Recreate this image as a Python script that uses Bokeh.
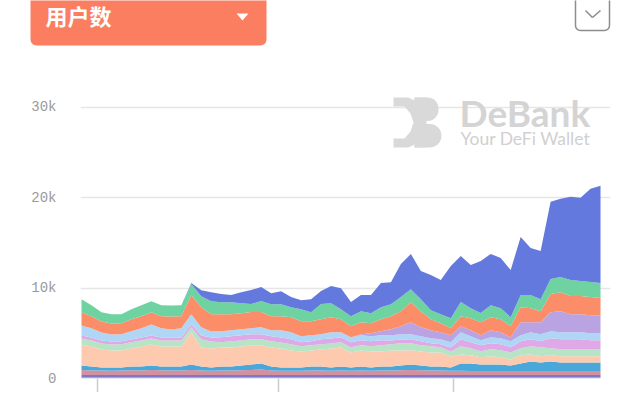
from bokeh.plotting import figure
from bokeh.layouts import column
from bokeh.models import (ColumnDataSource, Range1d, FixedTicker, BoxAnnotation,
                          Label, PolyAnnotation, Arrow)
from bokeh.embed import file_html
from bokeh.resources import INLINE

# ---- data (users per day, stacked by protocol) ----
days = list(range(53))
x_ticks = [1.6, 19.74, 37.27]
y_ticks = [0, 10000, 20000, 30000]
y_tick_labels = {0: "0", 10000: "10k", 20000: "20k", 30000: "30k"}

s_base = [170, 170, 160, 160, 170, 170, 170, 170, 170, 160, 170, 170, 170, 160, 170, 170, 170, 170, 170, 170,
          160, 170, 170, 170, 170, 160, 170, 170, 170, 170, 170, 170, 170, 170, 170, 170, 170, 170, 170, 170,
          170, 170, 170, 170, 170, 170, 170, 170, 170, 170, 170, 170, 170]
s_purple = [220, 220, 220, 220, 220, 220, 220, 220, 220, 220, 220, 220, 220, 220, 220, 220, 220, 220, 220, 220,
            220, 220, 220, 220, 220, 220, 220, 220, 220, 220, 220, 220, 220, 220, 220, 220, 220, 220, 220, 220,
            220, 220, 220, 220, 220, 220, 220, 220, 220, 220, 220, 220, 220]
s_mauve = [560, 500, 500, 470, 500, 530, 500, 560, 530, 500, 500, 560, 500, 470, 500, 500, 530, 560, 600, 500,
           470, 470, 470, 500, 500, 470, 500, 470, 500, 470, 500, 500, 530, 560, 530, 500, 500, 470, 470, 440,
           440, 440, 440, 440, 440, 440, 440, 440, 440, 440, 440, 440, 440]
s_blue = [490, 440, 330, 360, 330, 410, 440, 490, 410, 440, 440, 610, 440, 360, 440, 440, 520, 610, 680, 440,
          360, 360, 360, 440, 440, 360, 440, 360, 440, 360, 440, 440, 520, 610, 520, 440, 440, 360, 810, 840,
          730, 730, 730, 610, 840, 1060, 950, 1060, 950, 950, 950, 950, 950]
s_peach = [2330, 2220, 2000, 1890, 1890, 2000, 2220, 2330, 2220, 2220, 2220, 3560, 2110, 2110, 2110, 2110, 2110,
           2110, 2000, 2110, 2110, 1890, 1780, 1780, 1890, 2110, 2110, 1670, 1780, 1780, 1670, 1780, 1670, 1560,
           1560, 1560, 1560, 1220, 1000, 890, 780, 890, 780, 670, 890, 780, 670, 670, 670, 670, 670, 670, 670]
s_lightgreen = [670, 670, 670, 670, 670, 670, 670, 670, 670, 670, 670, 560, 890, 780, 560, 670, 670, 670, 670,
                670, 670, 670, 560, 560, 560, 560, 560, 560, 560, 560, 670, 670, 780, 780, 670, 670, 560, 560,
                890, 780, 670, 780, 780, 780, 780, 890, 1000, 780, 780, 780, 780, 780, 780]
s_pink = [330, 330, 330, 330, 330, 330, 330, 330, 330, 330, 330, 330, 440, 440, 560, 560, 560, 560, 560, 560,
          560, 560, 440, 440, 560, 560, 560, 560, 560, 560, 560, 440, 440, 440, 440, 330, 330, 440, 780, 670,
          670, 670, 670, 560, 780, 780, 670, 1110, 1110, 1110, 1110, 1000, 1000]
s_lightblue = [1110, 1000, 890, 780, 780, 890, 1000, 1220, 1000, 890, 1000, 1110, 890, 670, 670, 670, 670, 670,
               780, 670, 780, 780, 670, 670, 560, 670, 560, 560, 560, 560, 560, 560, 560, 560, 560, 560, 560,
               560, 780, 670, 560, 670, 670, 670, 670, 780, 780, 780, 780, 780, 780, 780, 780]
s_lavender = [0, 0, 0, 0, 0, 0, 0, 0, 0, 0, 0, 0, 0, 0, 0, 0, 0, 0, 0, 0, 0, 0, 0, 0, 0, 0, 0, 0,
              110, 330, 440, 670, 890, 1330, 1000, 890, 780, 780, 670, 670, 560, 780, 670, 440, 1440, 1110,
              1330, 2110, 2330, 2000, 2000, 2000, 2000]
s_orange = [1440, 1330, 1220, 1220, 1220, 1330, 1330, 1330, 1330, 1440, 1330, 2110, 2220, 1890, 1890, 1780, 1780,
            1780, 1670, 1560, 1560, 1670, 1670, 1560, 1670, 1670, 1440, 1220, 1330, 1110, 1330, 1440, 1670, 2220,
            1780, 1220, 1000, 780, 1110, 1330, 1440, 1440, 1440, 1220, 1670, 1560, 1220, 2000, 2110, 2000, 2000,
            2000, 1890]
s_green = [1440, 1220, 1000, 1000, 1000, 1110, 1220, 1220, 1220, 1220, 1220, 1220, 1220, 1440, 1330, 1330, 1110,
           890, 1220, 1330, 1330, 1110, 1330, 1000, 1670, 1560, 1110, 1110, 1220, 1110, 1330, 1330, 1560, 1440,
           1330, 1000, 1000, 1110, 1560, 1110, 1000, 1330, 1220, 1000, 1330, 1440, 1330, 1670, 1670, 1780, 1670,
           1670, 1670]
s_top = [0, 0, 0, 0, 0, 0, 0, 0, 0, 0, 0, 110, 670, 1000, 890, 780, 1220, 1560, 1560, 1220, 1440, 1110, 1000,
         1440, 1440, 1890, 2330, 1560, 1780, 2000, 2670, 2440, 3670, 3890, 3110, 3890, 3780, 5780, 5110, 4780,
         5780, 5670, 5560, 5220, 6440, 5220, 5330, 8560, 8670, 9220, 9220, 10330, 10780]

names = ["s_base", "s_purple", "s_mauve", "s_blue", "s_peach", "s_lightgreen", "s_pink",
         "s_lightblue", "s_lavender", "s_orange", "s_green", "s_top"]
colors = ["#8fb4c6", "#8274c8", "#d3909f", "#4aa7da", "#fdcab0", "#b7e4c4", "#dfa8e6",
          "#b0d6f6", "#b9a3e2", "#fb8d69", "#6fd3a1", "#6479de"]

src = ColumnDataSource(dict(day=days, s_base=s_base, s_purple=s_purple, s_mauve=s_mauve, s_blue=s_blue,
                            s_peach=s_peach, s_lightgreen=s_lightgreen, s_pink=s_pink,
                            s_lightblue=s_lightblue, s_lavender=s_lavender, s_orange=s_orange,
                            s_green=s_green, s_top=s_top))

# ---------------- header strip (selector button + dropdown) ----------------
HEAD_H = 48
h = figure(width=640, height=HEAD_H, output_backend="svg", toolbar_location=None,
           x_range=Range1d(0, 640), y_range=Range1d(HEAD_H, 0),
           x_axis_type=None, y_axis_type=None, frame_align=False,
           min_border_left=0, min_border_right=0, min_border_top=0, min_border_bottom=0)
h.outline_line_color = None
h.grid.visible = False
h.background_fill_color = "white"
h.border_fill_color = "white"

h.add_layout(BoxAnnotation(left=30, right=266, top=-12, bottom=45,
                           fill_color="#fc7e60", fill_alpha=1.0, line_color=None, border_radius=6))
h.add_layout(Label(x=45, y=14, text="用户数",
                   text_font="Noto Sans CJK SC", text_font_style="bold", text_font_size="22px",
                   text_color="white", text_baseline="middle"))
h.add_layout(PolyAnnotation(xs=[236, 248, 242], ys=[13, 13, 20],
                            fill_color="white", fill_alpha=1.0, line_color=None))
h.add_layout(BoxAnnotation(left=575, right=609, top=-6, bottom=30,
                           fill_color="white", fill_alpha=1.0,
                           line_color="#8c8c8c", line_width=1.5, line_alpha=1.0, border_radius=5))
h.add_layout(Arrow(x_start=585, y_start=10, x_end=592, y_end=17, end=None,
                   line_color="#8c8c8c", line_width=1.5))
h.add_layout(Arrow(x_start=592, y_start=17, x_end=600, y_end=10, end=None,
                   line_color="#8c8c8c", line_width=1.5))

# ---------------- chart ----------------
CH_H = 344
p = figure(width=640, height=CH_H, output_backend="svg", toolbar_location=None,
           x_range=Range1d(-0.1, 53.0), y_range=Range1d(0, 31880), frame_align=False,
           min_border_left=80, min_border_right=30, min_border_top=42, min_border_bottom=14)
p.outline_line_color = None
p.background_fill_color = "white"
p.border_fill_color = "white"

p.varea_stack(stackers=names, x="day", color=colors, source=src)

p.xgrid.visible = False
p.ygrid.ticker = FixedTicker(ticks=y_ticks)
p.ygrid.grid_line_color = "#e6e6e6"
p.ygrid.grid_line_width = 1.5

p.yaxis.ticker = FixedTicker(ticks=y_ticks)
p.yaxis.major_label_overrides = y_tick_labels
p.yaxis.axis_line_color = None
p.yaxis.major_tick_line_color = None
p.yaxis.minor_tick_line_color = None
p.yaxis.major_label_standoff = 18
p.yaxis.major_label_text_font = "Liberation Mono"
p.yaxis.major_label_text_font_size = "14px"
p.yaxis.major_label_text_color = "#9a9a9a"

p.xaxis.ticker = FixedTicker(ticks=x_ticks)
p.xaxis.major_label_overrides = {t: "" for t in x_ticks}
p.xaxis.axis_line_color = None
p.xaxis.major_tick_line_color = "#cccccc"
p.xaxis.major_tick_line_width = 1.5
p.xaxis.major_tick_out = 14
p.xaxis.major_tick_in = 0
p.xaxis.minor_tick_line_color = None
p.xaxis.major_label_text_font_size = "0px"
p.xaxis.major_label_standoff = 0


# frame-relative screen units: frame left edge at x=80, frame bottom at y=378 (page pixels)
def sx(X):
    return X - 80


def sy(Y):
    return 378 - Y


# watermark logo + wordmark
wm = "#d9d9d9"
p.add_layout(PolyAnnotation(
    xs=[sx(v) for v in [393, 408, 418, 424, 425, 424, 418, 408, 393, 393, 404, 410, 413, 410, 404, 393]],
    ys=[sy(v) for v in [97, 97, 102, 112, 122, 132, 142, 147, 147, 138, 138, 131, 122, 113, 106, 106]],
    xs_units="screen", ys_units="screen", fill_color=wm, fill_alpha=1.0, line_color=None))
p.add_layout(BoxAnnotation(left=sx(414), right=sx(426), top=sy(97), bottom=sy(147),
                           left_units="screen", right_units="screen", top_units="screen",
                           bottom_units="screen", fill_color=wm, fill_alpha=1.0, line_color=None))
p.add_layout(BoxAnnotation(left=sx(414), right=sx(438), top=sy(97), bottom=sy(120.5),
                           left_units="screen", right_units="screen", top_units="screen",
                           bottom_units="screen", fill_color=wm, fill_alpha=1.0, line_color=None,
                           border_radius=(0, 11, 11, 0)))
p.add_layout(BoxAnnotation(left=sx(414), right=sx(441), top=sy(123.5), bottom=sy(147),
                           left_units="screen", right_units="screen", top_units="screen",
                           bottom_units="screen", fill_color=wm, fill_alpha=1.0, line_color=None,
                           border_radius=(0, 12, 12, 0)))
p.add_layout(Label(x=sx(459), y=sy(112), x_units="screen", y_units="screen", text="DeBank",
                   text_font="Lato", text_font_style="bold", text_font_size="37px",
                   text_color="#d4d4d4", text_baseline="middle"))
p.add_layout(Label(x=sx(460), y=sy(138), x_units="screen", y_units="screen", text="Your DeFi Wallet",
                   text_font="Lato", text_font_size="17.5px",
                   text_color="#d0d0d0", text_baseline="middle"))

layout = column(h, p, spacing=0)
open("out.html", "w").write(file_html(layout, INLINE))
